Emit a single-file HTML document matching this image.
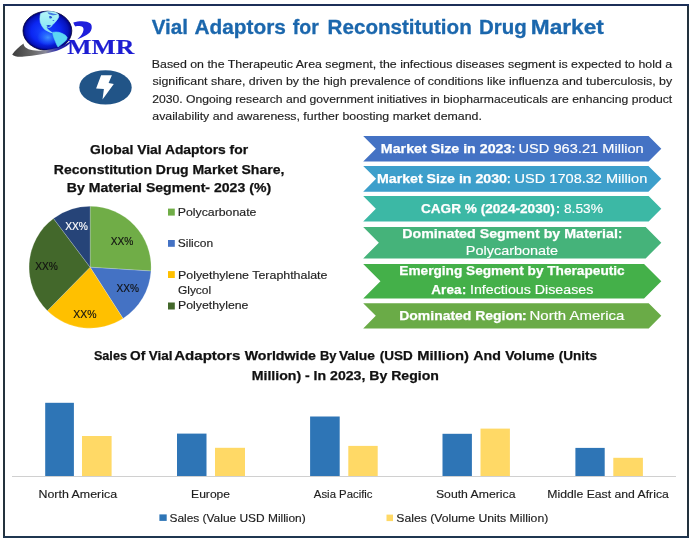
<!DOCTYPE html>
<html><head><meta charset="utf-8">
<style>
html,body{margin:0;padding:0;background:#fff;}
body{width:693px;height:543px;overflow:hidden;}
svg{display:block;will-change:transform;}
text{font-family:"Liberation Sans",sans-serif;}
</style></head>
<body>
<svg width="693" height="543" viewBox="0 0 693 543">
<defs>
<radialGradient id="globe" cx="0.5" cy="0.5" r="0.5" fx="0.42" fy="0.55">
<stop offset="0" stop-color="#1848ff"/>
<stop offset="0.6" stop-color="#0b26f2"/>
<stop offset="0.86" stop-color="#0614bc"/>
<stop offset="1" stop-color="#00007a"/>
</radialGradient>
<radialGradient id="glow" cx="0.5" cy="0.5" r="0.5">
<stop offset="0" stop-color="#48a4ff" stop-opacity="0.85"/>
<stop offset="0.6" stop-color="#3080ff" stop-opacity="0.4"/>
<stop offset="1" stop-color="#3080ff" stop-opacity="0"/>
</radialGradient>
<linearGradient id="swoosh" gradientUnits="userSpaceOnUse" x1="12" y1="0" x2="73" y2="0">
<stop offset="0" stop-color="#3c3c3c"/>
<stop offset="0.35" stop-color="#6a6a6a"/>
<stop offset="0.55" stop-color="#8a8a9a"/>
<stop offset="0.75" stop-color="#2a2ab0"/>
<stop offset="1" stop-color="#10109a"/>
</linearGradient>
</defs>
<rect x="0" y="0" width="693" height="543" fill="#fff"/>
<rect x="3" y="4" width="2" height="534" fill="#24323e"/>
<rect x="687" y="4" width="2" height="534" fill="#22313d"/>
<rect x="3" y="4" width="686" height="2" fill="#1c2f58"/>
<rect x="3" y="536" width="686" height="2" fill="#1f3650"/>
<g id="logo">
<ellipse cx="47.4" cy="30.8" rx="24.4" ry="19.6" fill="url(#globe)" stroke="#000038" stroke-width="0.8"/>
<ellipse cx="48" cy="37.5" rx="11" ry="8.5" fill="url(#glow)"/>
<path d="M40.6,13.6 L44,12.2 L48,11.6 L52,11.6 L56,12.6 L58.5,14.5 L58.8,16.8 L57.7,19 L55,22.4 L52.2,25.1 L51,26.8 L49,27.5 L47.5,27 L46.5,27.8 L48.5,30 L51,32 L52.5,32.8 L50,32.2 L46.5,30.5 L44.5,29.3 L42.1,26.2 L40.3,22.5 L39.9,19 L40.1,16 Z" fill="url(#nag)" stroke="#a0eef6" stroke-width="0.6" stroke-linejoin="round"/>
<path d="M47.5,12.2 C49.5,12.8 51.5,12.4 53,13.4 C54.5,14 56.2,13.6 57.6,14.6 C56.5,15.3 55,14.8 54,15.2 C52.6,15.6 51.2,14.6 49.8,14.4 C48.8,14.2 48,13.2 47.5,12.2 Z" fill="#3a70e0" opacity="0.9"/>
<path d="M49.2,16.2 C50.6,15.8 52,16.4 52.2,17.6 C51.6,18.8 50,18.9 49.3,18 Z" fill="#2858d8"/>
<ellipse cx="53.4" cy="20.6" rx="0.9" ry="0.5" fill="#3a70e0"/>
<path d="M46.4,25.6 C47.6,24.8 49.6,24.9 51.2,25.6 C50.6,26.7 48.8,27.1 47.4,26.8 Z" fill="#1a40d8"/>
<linearGradient id="nag" x1="0" y1="0" x2="0" y2="1"><stop offset="0" stop-color="#b4f6f8"/><stop offset="1" stop-color="#7ee4f4"/></linearGradient>
<path d="M52.8,32.4 L56,32 L59,32.3 L62.5,33.6 L65.5,35.3 L67.2,37.5 L66.5,39.8 L64.6,41.8 L62,43.8 L59.5,45.8 L58,47 L56.6,44.5 L55.4,41.5 L54,38 L53,35 Z" fill="#5cd6f4" stroke="#5cd6f4" stroke-width="0.6" stroke-linejoin="round"/>
<path d="M12.2,54.4 C15,50.5 19,46.5 23.6,43.4 C23.5,46 26,49 33,50.3 C42,51.6 54,49.5 63,45.5 C67,43.5 70.5,41.5 72.7,39.8 C70,44.5 64,48.5 56,51 C46,54 34,55.5 24,56.5 C18.5,57 14,56.5 12.2,54.4 Z" fill="url(#swoosh)"/>
<path d="M73.3,22.4 C76,21.5 79,21.2 82,21.2 C85.5,21.2 88.5,22 90.1,23.3 C91.6,24.5 92,26.5 91.6,28.8 C91,31.5 89,33.8 86.5,35 C83.5,36.8 80,38.3 77.3,39.2 C79.5,37.6 81.5,35.5 82.8,32.6 C83.8,30.3 83.8,28.3 82.6,27.1 C81,26 78,25.9 75.5,26.4 C74.6,25.6 73.9,24.2 73.3,22.4 Z" fill="#1f1fdc"/>
</g>
<text x="67.36" y="53.7" font-size="21" font-weight="bold" style="font-family:&quot;Liberation Serif&quot;,serif" fill="#1d1dd2" stroke="#1d1dd2" stroke-width="0.2" textLength="67.01" lengthAdjust="spacingAndGlyphs">MMR</text>
<ellipse cx="105.5" cy="87.4" rx="26.2" ry="17.2" fill="#215487"/>
<path d="M101.1,75.3 L111.9,75.3 L108.6,83 L113.8,83.9 L102.5,99.6 L103.9,88.9 L96.1,88.6 Z" fill="#fff"/>
<text x="151.66" y="33.7" font-size="20.3" font-weight="bold" fill="#1b67ad" stroke="#1b67ad" stroke-width="0.3" textLength="36.28" lengthAdjust="spacingAndGlyphs">Vial</text>
<text x="194.48" y="33.7" font-size="20.3" font-weight="bold" fill="#1b67ad" stroke="#1b67ad" stroke-width="0.3" textLength="91.47" lengthAdjust="spacingAndGlyphs">Adaptors</text>
<text x="292.87" y="33.7" font-size="20.3" font-weight="bold" fill="#1b67ad" stroke="#1b67ad" stroke-width="0.3" textLength="26.03" lengthAdjust="spacingAndGlyphs">for</text>
<text x="327.62" y="33.7" font-size="20.3" font-weight="bold" fill="#1b67ad" stroke="#1b67ad" stroke-width="0.3" textLength="144.15" lengthAdjust="spacingAndGlyphs">Reconstitution</text>
<text x="479.03" y="33.7" font-size="20.3" font-weight="bold" fill="#1b67ad" stroke="#1b67ad" stroke-width="0.3" textLength="47.74" lengthAdjust="spacingAndGlyphs">Drug</text>
<text x="530.78" y="33.7" font-size="20.3" font-weight="bold" fill="#1b67ad" stroke="#1b67ad" stroke-width="0.3" textLength="73.09" lengthAdjust="spacingAndGlyphs">Market</text>
<text x="151.79" y="67.8" font-size="10.8" fill="#1e1e1e" stroke="#1e1e1e" stroke-width="0.15" textLength="520.31" lengthAdjust="spacingAndGlyphs">Based on the Therapeutic Area segment, the infectious diseases segment is expected to hold a</text>
<text x="152.46" y="85.4" font-size="10.8" fill="#1e1e1e" stroke="#1e1e1e" stroke-width="0.15" textLength="519.67" lengthAdjust="spacingAndGlyphs">significant share, driven by the high prevalence of conditions like influenza and tuberculosis, by</text>
<text x="152.19" y="102.7" font-size="10.8" fill="#1e1e1e" stroke="#1e1e1e" stroke-width="0.15" textLength="520.00" lengthAdjust="spacingAndGlyphs">2030. Ongoing research and government initiatives in biopharmaceuticals are enhancing product</text>
<text x="152.28" y="120.1" font-size="10.8" fill="#1e1e1e" stroke="#1e1e1e" stroke-width="0.15" textLength="329.65" lengthAdjust="spacingAndGlyphs">availability and awareness, further boosting market demand.</text>
<text x="90.13" y="154.0" font-size="12.9" font-weight="bold" fill="#111" stroke="#111" stroke-width="0.25" textLength="157.98" lengthAdjust="spacingAndGlyphs">Global Vial Adaptors for</text>
<text x="53.86" y="173.9" font-size="12.9" font-weight="bold" fill="#111" stroke="#111" stroke-width="0.25" textLength="230.47" lengthAdjust="spacingAndGlyphs">Reconstitution Drug Market Share,</text>
<text x="66.86" y="192.3" font-size="12.9" font-weight="bold" fill="#111" stroke="#111" stroke-width="0.25" textLength="204.24" lengthAdjust="spacingAndGlyphs">By Material Segment- 2023 (%)</text>
<path d="M90.1,267.2 L90.10,206.20 A61,61 0 0 1 150.98,271.03 Z" fill="#70ad47" stroke="#fff" stroke-width="0.5" stroke-opacity="0.4"/>
<path d="M90.1,267.2 L150.98,271.03 A61,61 0 0 1 123.05,318.53 Z" fill="#4472c4" stroke="#fff" stroke-width="0.5" stroke-opacity="0.4"/>
<path d="M90.1,267.2 L123.05,318.53 A61,61 0 0 1 47.34,310.71 Z" fill="#ffc000" stroke="#fff" stroke-width="0.5" stroke-opacity="0.4"/>
<path d="M90.1,267.2 L47.34,310.71 A61,61 0 0 1 53.47,218.42 Z" fill="#43682b" stroke="#fff" stroke-width="0.5" stroke-opacity="0.4"/>
<path d="M90.1,267.2 L53.47,218.42 A61,61 0 0 1 90.10,206.20 Z" fill="#264478" stroke="#fff" stroke-width="0.5" stroke-opacity="0.4"/>
<text x="65.17" y="229.8" font-size="10.6" fill="#fff" stroke="#fff" stroke-width="0.15" textLength="22.80" lengthAdjust="spacingAndGlyphs">XX%</text>
<text x="110.77" y="245.1" font-size="10.6" fill="#111" stroke="#111" stroke-width="0.15" textLength="22.59" lengthAdjust="spacingAndGlyphs">XX%</text>
<text x="116.47" y="291.6" font-size="10.6" fill="#111" stroke="#111" stroke-width="0.15" textLength="22.49" lengthAdjust="spacingAndGlyphs">XX%</text>
<text x="73.27" y="317.9" font-size="10.6" fill="#111" stroke="#111" stroke-width="0.15" textLength="23.21" lengthAdjust="spacingAndGlyphs">XX%</text>
<text x="35.27" y="269.8" font-size="10.6" fill="#111" stroke="#111" stroke-width="0.15" textLength="22.69" lengthAdjust="spacingAndGlyphs">XX%</text>
<rect x="168" y="208.6" width="6.8" height="7" fill="#70ad47"/>
<text x="177.69" y="215.7" font-size="11" fill="#1e1e1e" stroke="#1e1e1e" stroke-width="0.15" textLength="78.76" lengthAdjust="spacingAndGlyphs">Polycarbonate</text>
<rect x="168" y="240" width="6.8" height="6.8" fill="#4472c4"/>
<text x="177.76" y="246.7" font-size="11" fill="#1e1e1e" stroke="#1e1e1e" stroke-width="0.15" textLength="35.32" lengthAdjust="spacingAndGlyphs">Silicon</text>
<rect x="168" y="271.1" width="6.8" height="6.9" fill="#ffc000"/>
<text x="177.99" y="278.5" font-size="11" fill="#1e1e1e" stroke="#1e1e1e" stroke-width="0.15" textLength="149.45" lengthAdjust="spacingAndGlyphs">Polyethylene Teraphthalate</text>
<text x="177.90" y="294.4" font-size="11" fill="#1e1e1e" stroke="#1e1e1e" stroke-width="0.15" textLength="33.30" lengthAdjust="spacingAndGlyphs">Glycol</text>
<rect x="168" y="302.5" width="6.8" height="7" fill="#43682b"/>
<text x="177.99" y="309.2" font-size="11" fill="#1e1e1e" stroke="#1e1e1e" stroke-width="0.15" textLength="70.46" lengthAdjust="spacingAndGlyphs">Polyethylene</text>
<polygon points="363.2,136 648.60,136 661.3,148.70 648.60,161.4 363.2,161.4 375.90,148.70" fill="#4472c4"/>
<polygon points="363.2,166 648.45,166 661.3,178.85 648.45,191.7 363.2,191.7 376.05,178.85" fill="#3d9fcb"/>
<polygon points="363.2,196.1 648.65,196.1 661.3,208.75 648.65,221.4 363.2,221.4 375.85,208.75" fill="#3cb8a5"/>
<polygon points="363.2,227.1 645.65,227.1 661.3,242.75 645.65,258.4 363.2,258.4 378.85,242.75" fill="#45b37a"/>
<polygon points="363.2,264.1 644.05,264.1 661.3,281.35 644.05,298.6 363.2,298.6 380.45,281.35" fill="#44b049"/>
<polygon points="363.2,303.2 648.70,303.2 661.3,315.80 648.70,328.4 363.2,328.4 375.80,315.80" fill="#6aab47"/>
<text x="380.85" y="152.9" font-size="13.2" font-weight="bold" fill="#fff" stroke="#fff" stroke-width="0.25" textLength="130.57" lengthAdjust="spacingAndGlyphs">Market Size in 2023</text>
<text x="518.57" y="152.9" font-size="13.2" fill="#fff" stroke="#fff" stroke-width="0.15" textLength="125.08" lengthAdjust="spacingAndGlyphs">USD 963.21 Million</text>
<text x="376.95" y="182.6" font-size="13.2" font-weight="bold" fill="#fff" stroke="#fff" stroke-width="0.25" textLength="130.03" lengthAdjust="spacingAndGlyphs">Market Size in 2030</text>
<text x="514.58" y="182.6" font-size="13.2" fill="#fff" stroke="#fff" stroke-width="0.15" textLength="132.67" lengthAdjust="spacingAndGlyphs">USD 1708.32 Million</text>
<text x="420.94" y="212.6" font-size="13.2" font-weight="bold" fill="#fff" stroke="#fff" stroke-width="0.25" textLength="133.94" lengthAdjust="spacingAndGlyphs">CAGR % (2024-2030)</text>
<text x="564.00" y="212.6" font-size="13.2" fill="#fff" stroke="#fff" stroke-width="0.15" textLength="38.88" lengthAdjust="spacingAndGlyphs">8.53%</text>
<text x="402.25" y="237.5" font-size="13.2" font-weight="bold" fill="#fff" stroke="#fff" stroke-width="0.25" textLength="215.66" lengthAdjust="spacingAndGlyphs">Dominated Segment by Material</text>
<text x="465.82" y="255.3" font-size="13.2" fill="#fff" stroke="#fff" stroke-width="0.15" textLength="92.33" lengthAdjust="spacingAndGlyphs">Polycarbonate</text>
<text x="399.29" y="275.3" font-size="13.2" font-weight="bold" fill="#fff" stroke="#fff" stroke-width="0.25" textLength="225.41" lengthAdjust="spacingAndGlyphs">Emerging Segment by Therapeutic</text>
<text x="431.36" y="293.6" font-size="13.2" font-weight="bold" fill="#fff" stroke="#fff" stroke-width="0.25" textLength="30.05" lengthAdjust="spacingAndGlyphs">Area</text>
<text x="469.99" y="293.6" font-size="13.2" fill="#fff" stroke="#fff" stroke-width="0.15" textLength="123.33" lengthAdjust="spacingAndGlyphs">Infectious Diseases</text>
<text x="399.27" y="319.5" font-size="13.2" font-weight="bold" fill="#fff" stroke="#fff" stroke-width="0.25" textLength="123.20" lengthAdjust="spacingAndGlyphs">Dominated Region</text>
<text x="529.58" y="319.5" font-size="13.2" fill="#fff" stroke="#fff" stroke-width="0.15" textLength="94.72" lengthAdjust="spacingAndGlyphs">North America</text>
<text x="511.64" y="152.9" font-size="13.2" font-weight="bold" fill="#fff" stroke="#fff" stroke-width="0.25" textLength="3.32" lengthAdjust="spacingAndGlyphs">:</text>
<text x="506.97" y="182.6" font-size="13.2" font-weight="bold" fill="#fff" stroke="#fff" stroke-width="0.25" textLength="3.55" lengthAdjust="spacingAndGlyphs">:</text>
<text x="555.94" y="212.6" font-size="13.2" font-weight="bold" fill="#fff" stroke="#fff" stroke-width="0.25" textLength="4.03" lengthAdjust="spacingAndGlyphs">:</text>
<text x="618.07" y="237.5" font-size="13.2" font-weight="bold" fill="#fff" stroke="#fff" stroke-width="0.25" textLength="4.26" lengthAdjust="spacingAndGlyphs">:</text>
<text x="462.07" y="293.6" font-size="13.2" font-weight="bold" fill="#fff" stroke="#fff" stroke-width="0.25" textLength="4.26" lengthAdjust="spacingAndGlyphs">:</text>
<text x="521.66" y="319.5" font-size="13.2" font-weight="bold" fill="#fff" stroke="#fff" stroke-width="0.25" textLength="4.97" lengthAdjust="spacingAndGlyphs">:</text>
<text x="93.94" y="359.9" font-size="13.2" font-weight="bold" fill="#111" stroke="#111" stroke-width="0.25" textLength="32.98" lengthAdjust="spacingAndGlyphs">Sales</text>
<text x="130.14" y="359.9" font-size="13.2" font-weight="bold" fill="#111" stroke="#111" stroke-width="0.25" textLength="15.24" lengthAdjust="spacingAndGlyphs">Of</text>
<text x="148.81" y="359.9" font-size="13.2" font-weight="bold" fill="#111" stroke="#111" stroke-width="0.25" textLength="23.74" lengthAdjust="spacingAndGlyphs">Vial</text>
<text x="174.23" y="359.9" font-size="13.2" font-weight="bold" fill="#111" stroke="#111" stroke-width="0.25" textLength="66.09" lengthAdjust="spacingAndGlyphs">Adaptors</text>
<text x="244.69" y="359.9" font-size="13.2" font-weight="bold" fill="#111" stroke="#111" stroke-width="0.25" textLength="71.30" lengthAdjust="spacingAndGlyphs">Worldwide</text>
<text x="319.93" y="359.9" font-size="13.2" font-weight="bold" fill="#111" stroke="#111" stroke-width="0.25" textLength="16.53" lengthAdjust="spacingAndGlyphs">By</text>
<text x="338.91" y="359.9" font-size="13.2" font-weight="bold" fill="#111" stroke="#111" stroke-width="0.25" textLength="36.05" lengthAdjust="spacingAndGlyphs">Value</text>
<text x="379.83" y="359.9" font-size="13.2" font-weight="bold" fill="#111" stroke="#111" stroke-width="0.25" textLength="32.94" lengthAdjust="spacingAndGlyphs">(USD</text>
<text x="417.21" y="359.9" font-size="13.2" font-weight="bold" fill="#111" stroke="#111" stroke-width="0.25" textLength="51.62" lengthAdjust="spacingAndGlyphs">Million)</text>
<text x="473.25" y="359.9" font-size="13.2" font-weight="bold" fill="#111" stroke="#111" stroke-width="0.25" textLength="27.59" lengthAdjust="spacingAndGlyphs">And</text>
<text x="505.31" y="359.9" font-size="13.2" font-weight="bold" fill="#111" stroke="#111" stroke-width="0.25" textLength="49.16" lengthAdjust="spacingAndGlyphs">Volume</text>
<text x="558.73" y="359.9" font-size="13.2" font-weight="bold" fill="#111" stroke="#111" stroke-width="0.25" textLength="38.33" lengthAdjust="spacingAndGlyphs">(Units</text>
<text x="251.76" y="379.9" font-size="13.2" font-weight="bold" fill="#111" stroke="#111" stroke-width="0.25" textLength="187.22" lengthAdjust="spacingAndGlyphs">Million) - In 2023, By Region</text>
<line x1="12" y1="476.5" x2="676" y2="476.5" stroke="#d0d0d0" stroke-width="1"/>
<rect x="45.2" y="402.8" width="28.70" height="73.20" fill="#2e75b6"/>
<rect x="177" y="433.6" width="29.50" height="42.40" fill="#2e75b6"/>
<rect x="310.1" y="416.5" width="29.60" height="59.50" fill="#2e75b6"/>
<rect x="442.5" y="433.8" width="29.40" height="42.20" fill="#2e75b6"/>
<rect x="575.4" y="447.9" width="29.30" height="28.10" fill="#2e75b6"/>
<rect x="82" y="436" width="29.60" height="40.00" fill="#ffd966"/>
<rect x="215" y="447.8" width="30.00" height="28.20" fill="#ffd966"/>
<rect x="348.3" y="445.9" width="29.40" height="30.10" fill="#ffd966"/>
<rect x="480.5" y="428.6" width="29.40" height="47.40" fill="#ffd966"/>
<rect x="613.3" y="457.8" width="29.60" height="18.20" fill="#ffd966"/>
<text x="38.49" y="497.8" font-size="11" fill="#1e1e1e" stroke="#1e1e1e" stroke-width="0.15" textLength="78.61" lengthAdjust="spacingAndGlyphs">North America</text>
<text x="191.11" y="497.8" font-size="11" fill="#1e1e1e" stroke="#1e1e1e" stroke-width="0.15" textLength="38.93" lengthAdjust="spacingAndGlyphs">Europe</text>
<text x="313.88" y="497.8" font-size="11" fill="#1e1e1e" stroke="#1e1e1e" stroke-width="0.15" textLength="58.62" lengthAdjust="spacingAndGlyphs">Asia Pacific</text>
<text x="435.95" y="497.8" font-size="11" fill="#1e1e1e" stroke="#1e1e1e" stroke-width="0.15" textLength="79.55" lengthAdjust="spacingAndGlyphs">South America</text>
<text x="547.30" y="497.8" font-size="11" fill="#1e1e1e" stroke="#1e1e1e" stroke-width="0.15" textLength="121.50" lengthAdjust="spacingAndGlyphs">Middle East and Africa</text>
<rect x="159.4" y="514.4" width="7.3" height="6.5" fill="#2e75b6"/>
<rect x="386.5" y="514.6" width="6.5" height="6.5" fill="#ffd966"/>
<text x="169.46" y="521.6" font-size="11" fill="#1e1e1e" stroke="#1e1e1e" stroke-width="0.15" textLength="136.27" lengthAdjust="spacingAndGlyphs">Sales (Value USD Million)</text>
<text x="396.35" y="521.6" font-size="11" fill="#1e1e1e" stroke="#1e1e1e" stroke-width="0.15" textLength="151.91" lengthAdjust="spacingAndGlyphs">Sales (Volume Units Million)</text>
</svg>
</body></html>
